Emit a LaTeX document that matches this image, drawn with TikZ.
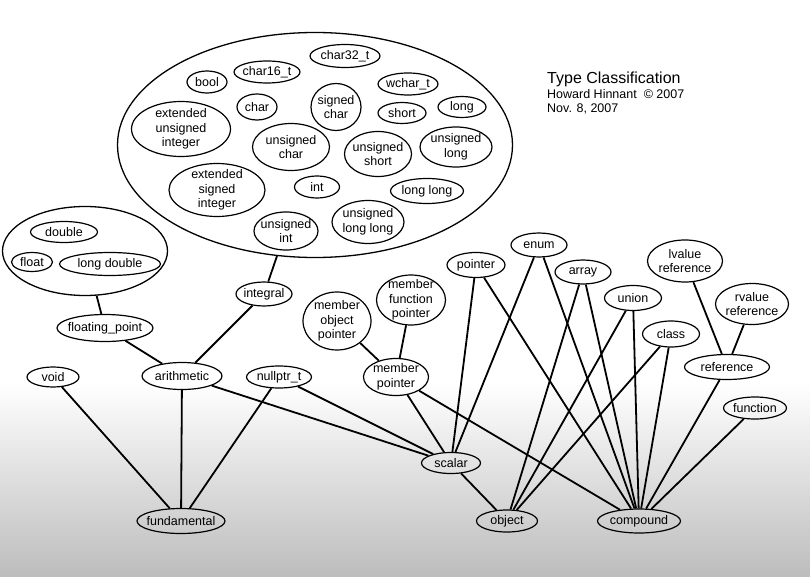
\documentclass[tikz,border=0pt]{standalone}
\usepackage{fontspec}
\setmainfont{Liberation Sans}
\usetikzlibrary{shapes.geometric}

\begin{document}
\begin{tikzpicture}[x=1pt,y=-1pt,
  ty/.style={ellipse,draw,line width=1.2pt,inner xsep=-4pt,inner ysep=-2.5pt,align=center,font=\fontsize{12.5}{14.5}\selectfont},
  sz/.style 2 args={minimum width=#1pt,minimum height=#2pt},
  grp/.style={ellipse,draw,line width=1.3pt,inner sep=0pt},
  ln/.style={line width=1.8pt}]
  % page and shading
  \useasboundingbox (0,0) rectangle (810,577);
  \fill[white] (0,0) rectangle (810,383);
  \shade[top color=white,middle color=gray!33,bottom color=gray!52] (0,383) rectangle (810,577);
  % title
  \node[anchor=base west,inner sep=0pt,font=\fontsize{16}{18}\selectfont] (title) at (547,84) {Type Classification};
  \node[anchor=base west,inner sep=0pt,font=\fontsize{12.5}{14}\selectfont] (author) at (547,99) {Howard Hinnant\ \ © 2007};
  \node[anchor=base west,inner sep=0pt,font=\fontsize{12.5}{14}\selectfont] (date) at (547,113) {Nov. 8, 2007};
  % integer types
  \node[grp,sz={395}{225}] (ints) at (315,145) {};
  \node[ty,sz={70}{23}] (c32) at (345,56) {char32\_t};
  \node[ty,sz={40}{22}] (bool) at (207,82) {bool};
  \node[ty,sz={66}{22}] (c16) at (267,72) {char16\_t};
  \node[ty,sz={60}{22}] (wchar) at (408,84) {wchar\_t};
  \node[ty,sz={40}{26}] (char) at (257,107) {char};
  \node[ty,sz={50}{47}] (schar) at (336,107) {signed\\char};
  \node[ty,sz={48}{21}] (short) at (402,113) {short};
  \node[ty,sz={48}{21}] (long) at (462,107) {long};
  \node[ty,sz={99}{55}] (eui) at (181,129) {extended\\unsigned\\integer};
  \node[ty,sz={77}{47}] (uchar) at (291,147) {unsigned\\char};
  \node[ty,sz={67}{45}] (ushort) at (378,154) {unsigned\\short};
  \node[ty,sz={72}{40}] (ulong) at (456,147) {unsigned\\long};
  \node[ty,sz={96}{53}] (esi) at (217,190) {extended\\signed\\integer};
  \node[ty,sz={45}{22}] (int) at (317,187) {int};
  \node[ty,sz={73}{25}] (llong) at (427,191) {long long};
  \node[ty,sz={64}{38}] (uint) at (286,231) {unsigned\\int};
  \node[ty,sz={72}{43}] (ullong) at (368,222) {unsigned\\long long};
  % floating types
  \node[grp,sz={165}{89}] (floats) at (85,251) {};
  \node[ty,sz={67}{21}] (double) at (64,232) {double};
  \node[ty,sz={41}{19}] (float) at (32,262) {float};
  \node[ty,sz={101}{23}] (ldouble) at (110,264) {long double};
  % categories
  \node[ty,sz={56}{24}] (integral) at (264,294) {integral};
  \node[ty,sz={96}{27}] (floating) at (105,328) {floating\_point};
  \node[ty,sz={52}{20}] (void) at (53,377) {void};
  \node[ty,sz={80}{27}] (arith) at (182,376) {arithmetic};
  \node[ty,sz={65}{22}] (nullptr) at (279,377) {nullptr\_t};
  \node[ty,sz={68}{58}] (mop) at (337,321) {member\\object\\pointer};
  \node[ty,sz={69}{50},inner ysep=-4pt] (mfp) at (411,300) {member\\function\\pointer};
  \node[ty,sz={65}{37}] (mptr) at (396,377) {member\\pointer};
  \node[ty,sz={58}{25}] (pointer) at (476,265) {pointer};
  \node[ty,sz={56}{24}] (enum) at (539,245) {enum};
  \node[ty,sz={56}{24}] (array) at (583,272) {array};
  \node[ty,sz={57}{25}] (union) at (633,298) {union};
  \node[ty,sz={57}{26}] (class) at (671,334) {class};
  \node[ty,sz={75}{42}] (lref) at (685,261) {lvalue\\reference};
  \node[ty,sz={73}{41}] (rref) at (752,304) {rvalue\\reference};
  \node[ty,sz={85}{25}] (ref) at (727,367) {reference};
  \node[ty,sz={63}{22}] (func) at (755,408) {function};
  % bottom row
  \node[ty,sz={59}{21}] (scalar) at (451,463) {scalar};
  \node[ty,sz={88}{25}] (fund) at (181,521) {fundamental};
  \node[ty,sz={61}{22}] (object) at (507,521) {object};
  \node[ty,sz={83}{24}] (compound) at (639,521) {compound};
  % arithmetic
  \draw[ln] (floats) -- (floating);
  \draw[ln] (ints) -- (integral);
  \draw[ln] (floating) -- (arith);
  \draw[ln] (integral) -- (arith);
  % fundamental
  \draw[ln] (void) -- (fund);
  \draw[ln] (arith) -- (fund);
  \draw[ln] (nullptr) -- (fund);
  % member pointers
  \draw[ln] (mop) -- (mptr);
  \draw[ln] (mfp) -- (mptr);
  % scalar
  \draw[ln] (arith) -- (scalar);
  \draw[ln] (nullptr) -- (scalar);
  \draw[ln] (mptr) -- (scalar);
  \draw[ln] (pointer) -- (scalar);
  \draw[ln] (enum) -- (scalar);
  % object
  \draw[ln] (scalar) -- (object);
  \draw[ln] (array) -- (object);
  \draw[ln] (union) -- (object);
  \draw[ln] (class) -- (object);
  % references
  \draw[ln] (lref) -- (ref);
  \draw[ln] (rref) -- (ref);
  % compound
  \draw[ln] (mptr) -- (compound);
  \draw[ln] (pointer) -- (compound);
  \draw[ln] (enum) -- (compound);
  \draw[ln] (array) -- (compound);
  \draw[ln] (union) -- (compound);
  \draw[ln] (class) -- (compound);
  \draw[ln] (ref) -- (compound);
  \draw[ln] (func) -- (compound);
\end{tikzpicture}
\end{document}
